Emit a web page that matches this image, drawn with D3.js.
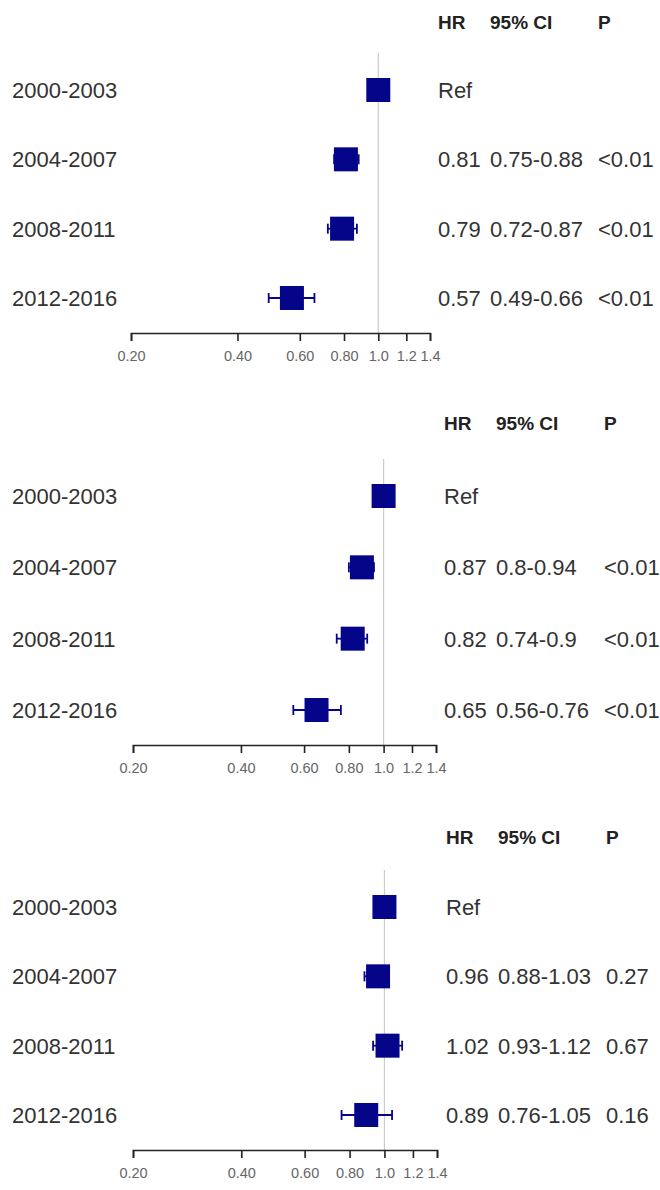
<!DOCTYPE html>
<html>
<head>
<meta charset="utf-8">
<script src="https://cdn.jsdelivr.net/npm/d3@7"></script>
<style>
  body { margin: 0; background: #fff; }
  text { font-family: "Liberation Sans", Arial, sans-serif; }
</style>
</head>
<body>
<div class="container"></div>
<script>
// rows are the same in every panel
const periods = ['2000-2003', '2004-2007', '2008-2011', '2012-2016']
const headers = ['HR', '95% CI', 'P']
const ticks = [0.2, 0.4, 0.6, 0.8, 1.0, 1.2, 1.4]
const tickLabels = ['0.20', '0.40', '0.60', '0.80', '1.0', '1.2', '1.4']

// panel 1
const hr1 = [1, 0.81, 0.79, 0.57]
const lo1 = [null, 0.75, 0.72, 0.49]
const hi1 = [null, 0.88, 0.87, 0.66]
const hrText1 = ['Ref', '0.81', '0.79', '0.57']
const ciText1 = ['', '0.75-0.88', '0.72-0.87', '0.49-0.66']
const pText1 = ['', '<0.01', '<0.01', '<0.01']

// panel 2
const hr2 = [1, 0.87, 0.82, 0.65]
const lo2 = [null, 0.80, 0.74, 0.56]
const hi2 = [null, 0.94, 0.90, 0.76]
const hrText2 = ['Ref', '0.87', '0.82', '0.65']
const ciText2 = ['', '0.8-0.94', '0.74-0.9', '0.56-0.76']
const pText2 = ['', '<0.01', '<0.01', '<0.01']

// panel 3
const hr3 = [1, 0.96, 1.02, 0.89]
const lo3 = [null, 0.88, 0.93, 0.76]
const hi3 = [null, 1.03, 1.12, 1.05]
const hrText3 = ['Ref', '0.96', '1.02', '0.89']
const ciText3 = ['', '0.88-1.03', '0.93-1.12', '0.76-1.05']
const pText3 = ['', '0.27', '0.67', '0.16']

const width = 660, height = 1190
const svg = d3.select('.container').append('svg')
    .attr('width', width).attr('height', height)

const blue = '#05058a'

function panel(hr, lo, hi, hrText, ciText, pText, lay) {
    const g = svg.append('g')
    const x = d3.scaleLog().domain([0.2, 1.4]).range([lay.x0, lay.x1])
    const y = d3.scalePoint().domain(periods).range([lay.row0, lay.row3])
    const axisY = lay.row3 + 35

    // header
    const hx = [lay.tx, lay.tx + 52, lay.tx + 160]
    g.selectAll('.hdr').data(headers).enter().append('text')
        .attr('x', (d, i) => hx[i])
        .attr('y', lay.head + 7)
        .style('font-size', '19px')
        .style('font-weight', 'bold')
        .attr('fill', '#222')
        .text(d => d)

    // reference line at 1
    g.append('line')
        .attr('x1', x(1)).attr('x2', x(1))
        .attr('y1', lay.row0 - 37).attr('y2', axisY)
        .attr('stroke', '#cccccc').attr('stroke-width', 1.2)

    const rows = periods.map((p, i) => ({p, hr: hr[i], lo: lo[i], hi: hi[i]}))
    const ci = rows.filter(d => d.lo != null)

    // whiskers
    g.selectAll('.ci').data(ci).enter().append('line')
        .attr('x1', d => x(d.lo)).attr('x2', d => x(d.hi))
        .attr('y1', d => y(d.p)).attr('y2', d => y(d.p))
        .attr('stroke', blue).attr('stroke-width', 1.8)
    g.selectAll('.capl').data(ci).enter().append('line')
        .attr('x1', d => x(d.lo)).attr('x2', d => x(d.lo))
        .attr('y1', d => y(d.p) - 5).attr('y2', d => y(d.p) + 5)
        .attr('stroke', blue).attr('stroke-width', 1.8)
    g.selectAll('.caph').data(ci).enter().append('line')
        .attr('x1', d => x(d.hi)).attr('x2', d => x(d.hi))
        .attr('y1', d => y(d.p) - 5).attr('y2', d => y(d.p) + 5)
        .attr('stroke', blue).attr('stroke-width', 1.8)

    // boxes
    const s = 24
    g.selectAll('.box').data(rows).enter().append('rect')
        .attr('x', d => x(d.hr) - s / 2)
        .attr('y', d => y(d.p) - s / 2)
        .attr('width', s).attr('height', s)
        .attr('fill', blue)

    // row labels
    g.selectAll('.lab').data(periods).enter().append('text')
        .attr('x', 12)
        .attr('y', d => y(d) + 8)
        .style('font-size', '22px')
        .attr('fill', '#333')
        .text(d => d)

    // right-hand text columns
    const cols = [hrText, ciText, pText]
    cols.forEach((col, c) => {
        g.selectAll('.col' + c).data(col).enter().append('text')
            .attr('x', hx[c])
            .attr('y', (d, i) => y(periods[i]) + 8)
            .style('font-size', '22px')
            .attr('fill', '#333')
            .text(d => d)
    })

    // x axis
    const ax = g.append('g')
        .attr('transform', `translate(0,${axisY})`)
        .call(d3.axisBottom(x)
            .tickValues(ticks)
            .tickFormat((d, i) => tickLabels[i])
            .tickSize(8)
            .tickSizeOuter(8))
    ax.select('.domain').attr('stroke', '#222').attr('stroke-width', 1.6)
    ax.selectAll('.tick line').attr('stroke', '#222').attr('stroke-width', 1.6)
    ax.selectAll('.tick text')
        .attr('y', 28).attr('dy', 0)
        .style('font-size', '14.5px')
        .style('font-family', '"Liberation Sans", Arial, sans-serif')
        .attr('fill', '#666')
}

panel(hr1, lo1, hi1, hrText1, ciText1, pText1,
    {x0: 131, x1: 430, head: 22, row0: 90, row3: 298, tx: 438})
panel(hr2, lo2, hi2, hrText2, ciText2, pText2,
    {x0: 133, x1: 436, head: 423, row0: 496, row3: 710, tx: 444})
panel(hr3, lo3, hi3, hrText3, ciText3, pText3,
    {x0: 133, x1: 437, head: 837, row0: 907, row3: 1115, tx: 446})
</script>
</body>
</html>
